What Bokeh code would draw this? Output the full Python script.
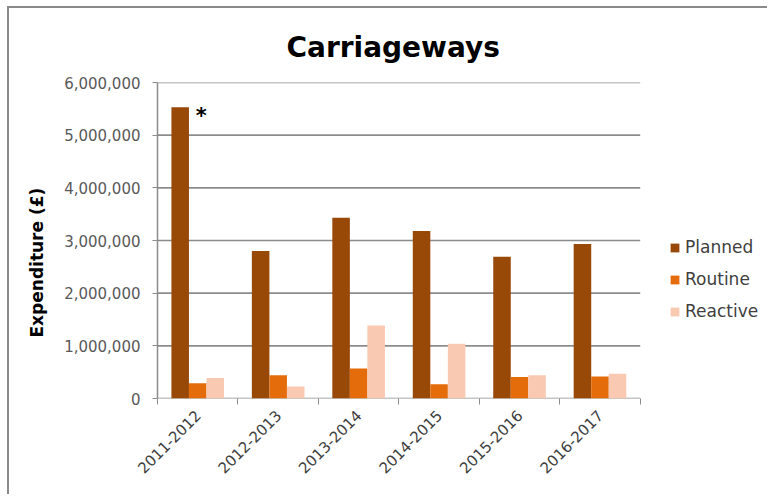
import math
from bokeh.plotting import figure
from bokeh.models import (Range1d, FixedTicker, NumeralTickFormatter, CustomJSTickFormatter,
                          Legend, LegendItem, Label, ColumnDataSource, Title)
from bokeh.embed import file_html
from bokeh.resources import INLINE

years = ["2011-2012", "2012-2013", "2013-2014", "2014-2015", "2015-2016", "2016-2017"]
planned = [5530000, 2800000, 3430000, 3180000, 2690000, 2935000]
routine = [290000, 440000, 570000, 270000, 410000, 420000]
reactive = [390000, 230000, 1385000, 1040000, 440000, 470000]
series_names = ["Planned", "Routine", "Reactive"]
series_colors = ["#984807", "#E46C0A", "#FAC9B1"]
y_ticks = [0, 1000000, 2000000, 3000000, 4000000, 5000000, 6000000]

FONT = "DejaVu Sans"
GRID = "#8c8c8c"
n_cat = len(years)
X_END = 7.607  # plot area is extended to the right so the legend can sit beside the bars

p = figure(width=760, height=488, x_range=Range1d(0, X_END), y_range=Range1d(0, 6000000),
           output_backend="svg", toolbar_location=None,
           min_border_left=147, min_border_right=0, min_border_top=74, min_border_bottom=98)
p.styles = {"margin-left": "7px", "margin-top": "6px",
            "border-left": "2px solid #8a8a8a", "border-top": "2px solid #8a8a8a",
            "border-right": "none", "border-bottom": "none"}
p.outline_line_color = None
p.background_fill_color = "white"
p.border_fill_color = "white"

# title
p.title.text = "Carriageways"
p.title.align = "left"
p.title.offset = 129
p.title.text_font = FONT
p.title.text_font_size = "28px"
p.title.text_font_style = "bold"
p.title.text_color = "#000000"
p.title.standoff = 38

# horizontal gridlines (stop at the last category)
grid_src = ColumnDataSource(dict(x0=[0] * len(y_ticks), x1=[n_cat] * len(y_ticks),
                                 y=y_ticks))
p.segment(x0="x0", x1="x1", y0="y", y1="y", source=grid_src, line_color=GRID, line_width=1.6)

# bars
bar_w = 0.218
offsets = [-bar_w, 0.0, bar_w]
renderers = []
for name, vals, col, off in zip(series_names, [planned, routine, reactive], series_colors, offsets):
    src = ColumnDataSource(dict(x=[i + 0.5 + off for i in range(n_cat)], top=vals))
    r = p.vbar(x="x", top="top", width=bar_w, bottom=0, source=src, fill_color=col,
               line_color=None)
    renderers.append((name, r))

# y axis
yax = p.yaxis[0]
yax.ticker = FixedTicker(ticks=y_ticks)
yax.formatter = NumeralTickFormatter(format="0,0")
yax.major_label_text_font = FONT
yax.major_label_text_font_size = "15px"
yax.major_label_text_color = "#595959"
yax.major_tick_out = 5
yax.major_tick_in = 0
yax.minor_tick_out = 0
yax.minor_tick_in = 0
yax.major_label_standoff = 12
yax.axis_line_color = GRID
yax.major_tick_line_color = GRID
yax.axis_line_width = 1.5

# x axis
xax = p.xaxis[0]
xax.ticker = FixedTicker(ticks=[i + 0.5 for i in range(n_cat)],
                         minor_ticks=list(range(n_cat + 1)))
xax.formatter = CustomJSTickFormatter(args=dict(labels=years),
                                      code="return labels[Math.floor(tick)];")
xax.major_label_orientation = math.pi / 4
xax.major_label_text_font = FONT
xax.major_label_text_font_size = "15px"
xax.major_label_text_color = "#404040"
xax.major_tick_out = 0
xax.major_tick_in = 0
xax.minor_tick_out = 6
xax.minor_tick_in = 0
xax.minor_tick_line_color = GRID
xax.axis_line_color = None
xax.major_label_standoff = 8

p.xgrid.grid_line_color = None
p.ygrid.grid_line_color = None

# y-axis title
p.add_layout(Title(text="Expenditure (£)", align="left", offset=61, standoff=30,
                   text_font=FONT, text_font_size="17px", text_font_style="bold",
                   text_color="#000000"), "left")

# asterisk
p.add_layout(Label(x=0.475, y=5370000, text="*", text_align="left", text_baseline="alphabetic",
                   text_font=FONT, text_font_size="21px", text_font_style="bold",
                   text_color="#000000"))

legend = Legend(items=[LegendItem(label=n, renderers=[r]) for n, r in renderers],
                location=(512, 77), orientation="vertical")
legend.border_line_color = None
legend.background_fill_alpha = 0
legend.padding = 0
legend.margin = 0
legend.spacing = 12
legend.glyph_width = 11
legend.glyph_height = 11
legend.label_height = 20
legend.label_standoff = 5
legend.label_text_font = FONT
legend.label_text_font_size = "17px"
legend.label_text_color = "#404040"
p.add_layout(legend, "center")

open("out.html", "w").write(file_html(p, INLINE))
